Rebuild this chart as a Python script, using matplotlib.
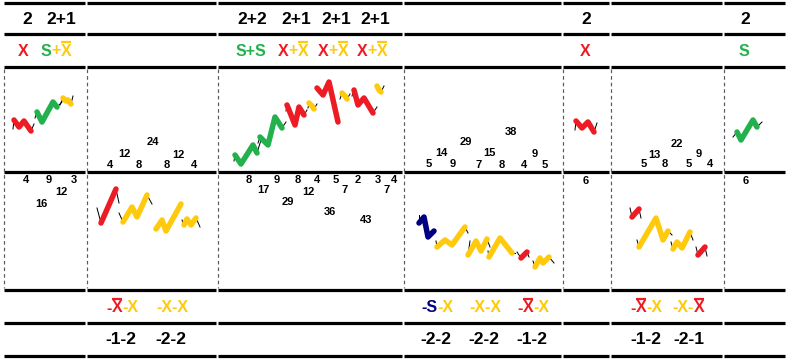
import matplotlib
matplotlib.use("Agg")
import matplotlib.pyplot as plt
from matplotlib.font_manager import FontProperties

RED = "#ED1C24"
GREEN = "#22B14C"
YEL = "#FFC90E"
NAVY = "#000080"
FONT = "Liberation Sans"

# layout grid (pixel units)
COL_EDGES = [3, 86, 217, 403, 562, 610, 723, 786]
ROW_LINES = [3, 34, 67, 172, 290, 323, 356]

# header row 1
HEAD1_X = [27, 61, 252, 296, 336, 375, 586, 745]
HEAD1_TXT = ["2", "2+1", "2+2", "2+1", "2+1", "2+1", "2", "2"]

# header row 2: pieces (text, colour, overbar)
HEAD2_X = [23, 56, 251, 293, 333, 372, 585, 744]
HEAD2 = [
    [("X", RED, False)],
    [("S", GREEN, False), ("+", YEL, False), ("X", YEL, True)],
    [("S+S", GREEN, False)],
    [("X", RED, False), ("+", YEL, False), ("X", YEL, True)],
    [("X", RED, False), ("+", YEL, False), ("X", YEL, True)],
    [("X", RED, False), ("+", YEL, False), ("X", YEL, True)],
    [("X", RED, False)],
    [("S", GREEN, False)],
]

# footer row 1 (colored)
FOOT1_X = [122, 172, 437, 485, 533, 646, 688]
FOOT1 = [
    [("-", RED, False), ("X", RED, True), ("-X", YEL, False)],
    [("-X-X", YEL, False)],
    [("-S", NAVY, False), ("-X", YEL, False)],
    [("-X-X", YEL, False)],
    [("-", RED, False), ("X", RED, True), ("-X", YEL, False)],
    [("-", RED, False), ("X", RED, True), ("-X", YEL, False)],
    [("-X-", YEL, False), ("X", RED, True)],
]

# footer row 2
FOOT2_X = [121, 171, 436, 484, 532, 646, 689]
FOOT2_TXT = ["-1-2", "-2-2", "-2-2", "-2-2", "-1-2", "-1-2", "-2-1"]

# counts in the panels
NUM_X = [110, 124, 139, 153, 167, 178, 194,
         429, 441, 453, 466, 479, 489, 502, 511, 524, 535, 545,
         644, 654, 665, 677, 689, 699, 710,
         586, 746,
         26, 49, 74, 61, 41,
         249, 263, 277, 288, 298, 308, 317, 330, 336, 345, 358, 366, 378, 387, 394]
NUM_Y = [165, 154, 165, 142, 165, 155, 165,
         164, 153, 164, 142, 165, 153, 165, 132, 165, 154, 165,
         164, 155, 164, 144, 164, 154, 164,
         181, 181,
         180, 180, 180, 192, 204,
         180, 190, 180, 202, 180, 192, 180, 212, 180, 190, 180, 220, 180, 190, 180]
NUM_TXT = ["4", "12", "8", "24", "8", "12", "4",
           "5", "14", "9", "29", "7", "15", "8", "38", "4", "9", "5",
           "5", "13", "8", "22", "5", "9", "4",
           "6", "6",
           "4", "9", "3", "12", "16",
           "8", "17", "9", "29", "8", "12", "4", "36", "5", "7", "2", "43", "3", "7", "4"]

# squiggle strokes: colour, vertices, start tail, end tail
STROKES = [
    (RED, [(14, 120), (19, 127), (24, 121), (31, 131)], (13, 129), (34, 124)),
    (GREEN, [(37, 112), (42, 122), (53, 102), (57, 107)], (35, 118), (62, 102)),
    (YEL, [(63, 98), (66, 101), (68, 100), (71, 104)], (60, 105), (73, 96)),
    (GREEN, [(235, 155), (241, 164), (253, 145), (257, 153)], (234, 161), (261, 140)),
    (GREEN, [(260, 137), (268, 145), (275, 117), (282, 128)], (258, 143), (286, 122)),
    (RED, [(287, 105), (295, 125), (299, 107), (304, 115)], (286, 111), (307, 110)),
    (YEL, [(309, 103), (312, 106), (314, 109)], (308, 108), (317, 104)),
    (RED, [(317, 88), (323, 95), (329, 82), (338, 122)], None, None),
    (YEL, [(342, 93), (345, 96), (347, 99)], (340, 99), (350, 94)),
    (RED, [(354, 90), (358, 105), (364, 98), (373, 113)], (352, 96), (377, 107)),
    (YEL, [(377, 86), (379, 90), (381, 92)], None, (384, 86)),
    (RED, [(576, 121), (582, 128), (588, 122), (594, 132)], (575, 130), (597, 123)),
    (GREEN, [(737, 132), (741, 140), (753, 120), (757, 127)], (733, 137), (762, 122)),
    (RED, [(101, 223), (116, 189)], (97, 208), (119, 203)),
    (YEL, [(123, 222), (132, 207), (137, 217), (147, 195)], (119, 213), (152, 204)),
    (YEL, [(156, 229), (162, 220), (166, 231), (181, 204)], None, None),
    (YEL, [(184, 225), (187, 219), (191, 225), (196, 218)], (182, 220), (200, 227)),
    (NAVY, [(419, 223), (424, 217), (428, 237), (434, 231)], (419, 215), None),
    (YEL, [(437, 247), (445, 240), (452, 245), (465, 227)], (436, 241), (468, 233)),
    (YEL, [(468, 255), (476, 241), (481, 251), (487, 239)], (470, 241), (490, 247)),
    (YEL, [(489, 257), (500, 238), (512, 253)], (488, 251), (515, 253)),
    (RED, [(521, 258), (527, 252)], (517, 252), (529, 257)),
    (YEL, [(535, 267), (540, 258), (543, 263), (549, 257)], (533, 261), (554, 263)),
    (RED, [(632, 217), (639, 209)], (630, 208), (641, 218)),
    (YEL, [(639, 247), (656, 218), (663, 240), (668, 231)], (637, 240), (672, 235)),
    (YEL, [(673, 249), (677, 242), (682, 248), (690, 232)], (671, 242), (693, 240)),
    (RED, [(698, 255), (705, 247)], (696, 247), (707, 256)),
]

PX = 0.72  # points per pixel at 100 dpi

fig = plt.figure(figsize=(7.9, 3.59), dpi=100)
ax = fig.add_axes([0, 0, 1, 1])
ax.set_xlim(0, 790)
ax.set_ylim(359, 0)
ax.axis("off")
renderer = fig.canvas.get_renderer()

# grid: thick row lines broken at column edges, dashed column lines in panels
for y in ROW_LINES:
    for x0, x1 in zip(COL_EDGES[:-1], COL_EDGES[1:]):
        ax.plot([x0 + 1, x1 - 1], [y, y], color="black", lw=3.2 * PX,
                solid_capstyle="butt")
for x in COL_EDGES[:-1]:
    ax.plot([x + 0.5, x + 0.5], [ROW_LINES[2] + 2, ROW_LINES[4] - 2], color="#5a5a5a",
            lw=1.2 * PX, ls=(0, (3, 2.5)))


def text_w(s, size):
    fp = FontProperties(family=FONT, weight="bold", size=size)
    w, h, d = renderer.get_text_width_height_descent(s, fp, ismath=False)
    return w


def colored(xc, yc, pieces, size):
    full = "".join(p[0] for p in pieces)
    total = text_w(full, size)
    x = xc - total / 2
    prefix = ""
    for txt, col, bar in pieces:
        xo = x + (text_w(prefix, size) if prefix else 0)
        ax.text(xo, yc, txt, color=col, fontsize=size, fontweight="bold",
                family=FONT, ha="left", va="center")
        if bar:
            w = text_w(txt, size)
            ax.plot([xo + 0.5, xo + w - 0.5], [yc - 9, yc - 9], color=col,
                    lw=2.2 * PX, solid_capstyle="butt")
        prefix += txt


for x, t in zip(HEAD1_X, HEAD1_TXT):
    ax.text(x, 19, t, fontsize=12.5, fontweight="bold", family=FONT,
            ha="center", va="center", color="black")
for x, p in zip(HEAD2_X, HEAD2):
    colored(x, 51, p, 11.5)
for x, p in zip(FOOT1_X, FOOT1):
    colored(x, 308, p, 11.5)
for x, t in zip(FOOT2_X, FOOT2_TXT):
    ax.text(x, 340, t, fontsize=12.5, fontweight="bold", family=FONT,
            ha="center", va="center", color="black")
for x, y, t in zip(NUM_X, NUM_Y, NUM_TXT):
    ax.text(x, y, t, fontsize=8, fontweight="bold", family=FONT,
            ha="center", va="center", color="black")

for col, pts, t0, t1 in STROKES:
    xs = [p[0] for p in pts]
    ys = [p[1] for p in pts]
    if t0 is not None:
        ax.plot([t0[0], xs[0]], [t0[1], ys[0]], color="black", lw=1 * PX)
    if t1 is not None:
        ax.plot([xs[-1], t1[0]], [ys[-1], t1[1]], color="black", lw=1 * PX)
    ax.plot(xs, ys, color=col, lw=5.5 * PX, solid_joinstyle="round",
            solid_capstyle="round", zorder=3)

fig.savefig("out.png", dpi=100)
